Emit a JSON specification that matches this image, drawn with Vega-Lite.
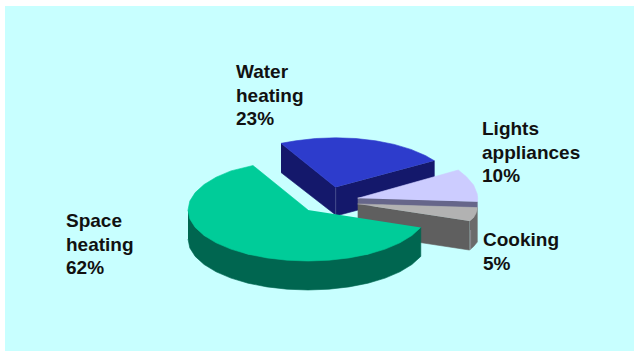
{
  "$schema": "https://vega.github.io/schema/vega-lite/v6.json",
  "width": 634,
  "height": 351,
  "padding": 0,
  "autosize": {"type": "none"},
  "background": "#ffffff",
  "view": {"stroke": null},
  "encoding": {
    "x": {"field": "x", "type": "quantitative", "axis": null, "scale": {"domain": [0, 634], "nice": false, "zero": false}},
    "y": {"field": "y", "type": "quantitative", "axis": null, "scale": {"domain": [351, 0], "nice": false, "zero": false}}
  },
  "layer": [
    {
      "data": {"values": [{"x": 5, "x2": 634, "y": 6, "y2": 351}]},
      "mark": {"type": "rect", "fill": "#c8ffff"},
      "encoding": {"x2": {"field": "x2"}, "y2": {"field": "y2"}}
    },
    {
      "data": {"values": [
        {"face": "water side a", "n": 1, "x": 281, "y": 143.3},
        {"face": "water side a", "n": 2, "x": 335.7, "y": 187.3},
        {"face": "water side a", "n": 3, "x": 335.7, "y": 215},
        {"face": "water side a", "n": 4, "x": 281, "y": 172.5},

        {"face": "water side b", "n": 5, "x": 335.7, "y": 187.3},
        {"face": "water side b", "n": 6, "x": 434.3, "y": 160.7},
        {"face": "water side b", "n": 7, "x": 434.3, "y": 189.7},
        {"face": "water side b", "n": 8, "x": 335.7, "y": 216},

        {"face": "water edge", "n": 8.1, "x": 335.7, "y": 188},
        {"face": "water edge", "n": 8.2, "x": 335.7, "y": 215},

        {"face": "water top", "n": 9, "x": 335.7, "y": 187.3},
        {"face": "water top", "n": 10, "x": 281, "y": 143.3},
        {"face": "water top", "n": 11, "x": 295.7, "y": 140.8},
        {"face": "water top", "n": 12, "x": 315.4, "y": 138.5},
        {"face": "water top", "n": 13, "x": 335.7, "y": 137.8},
        {"face": "water top", "n": 14, "x": 356, "y": 138.5},
        {"face": "water top", "n": 15, "x": 375.7, "y": 140.8},
        {"face": "water top", "n": 16, "x": 394.2, "y": 144.4},
        {"face": "water top", "n": 17, "x": 410.9, "y": 149.4},
        {"face": "water top", "n": 18, "x": 425.3, "y": 155.5},
        {"face": "water top", "n": 19, "x": 434.3, "y": 160.7},

        {"face": "lights side", "n": 20, "x": 357.7, "y": 197.5},
        {"face": "lights side", "n": 21, "x": 477.3, "y": 201.7},
        {"face": "lights side", "n": 22, "x": 477.3, "y": 208},
        {"face": "lights side", "n": 23, "x": 357.7, "y": 204},

        {"face": "lights top", "n": 24, "x": 357.7, "y": 198.3},
        {"face": "lights top", "n": 25, "x": 458.3, "y": 170},
        {"face": "lights top", "n": 26, "x": 466.4, "y": 176.7},
        {"face": "lights top", "n": 27, "x": 473.6, "y": 185.1},
        {"face": "lights top", "n": 28, "x": 477.2, "y": 193.9},
        {"face": "lights top", "n": 29, "x": 477.7, "y": 198.3},
        {"face": "lights top", "n": 30, "x": 477.4, "y": 201.7},

        {"face": "cooking side", "n": 31, "x": 357.7, "y": 204},
        {"face": "cooking side", "n": 32, "x": 469.3, "y": 221},
        {"face": "cooking side", "n": 33, "x": 469.3, "y": 250},
        {"face": "cooking side", "n": 34, "x": 357.7, "y": 233},

        {"face": "cooking rim", "n": 35, "x": 469.6, "y": 221},
        {"face": "cooking rim", "n": 36, "x": 473.6, "y": 217.5},
        {"face": "cooking rim", "n": 37, "x": 477.3, "y": 208},
        {"face": "cooking rim", "n": 38, "x": 477.3, "y": 242},
        {"face": "cooking rim", "n": 39, "x": 473.6, "y": 246.5},
        {"face": "cooking rim", "n": 40, "x": 469.6, "y": 250},

        {"face": "cooking edge", "n": 40.1, "x": 470.6, "y": 230},
        {"face": "cooking edge", "n": 40.2, "x": 470.6, "y": 249},

        {"face": "cooking top", "n": 41, "x": 357.7, "y": 204},
        {"face": "cooking top", "n": 42, "x": 477.4, "y": 207.6},
        {"face": "cooking top", "n": 43, "x": 477, "y": 210},
        {"face": "cooking top", "n": 44, "x": 475.9, "y": 213.5},
        {"face": "cooking top", "n": 45, "x": 473.6, "y": 217.5},
        {"face": "cooking top", "n": 46, "x": 469.6, "y": 221},

        {"face": "space side", "n": 47, "x": 188, "y": 210},
        {"face": "space side", "n": 48, "x": 204.1, "y": 235.5},
        {"face": "space side", "n": 49, "x": 248, "y": 254.2},
        {"face": "space side", "n": 50, "x": 308, "y": 261},
        {"face": "space side", "n": 51, "x": 368, "y": 254.2},
        {"face": "space side", "n": 52, "x": 420.8, "y": 227.4},
        {"face": "space side", "n": 53, "x": 420.8, "y": 256.4},
        {"face": "space side", "n": 54, "x": 411.9, "y": 264.5},
        {"face": "space side", "n": 55, "x": 399.9, "y": 271.8},
        {"face": "space side", "n": 56, "x": 385.2, "y": 278.1},
        {"face": "space side", "n": 57, "x": 368, "y": 283.2},
        {"face": "space side", "n": 58, "x": 349, "y": 286.9},
        {"face": "space side", "n": 59, "x": 328.9, "y": 289.2},
        {"face": "space side", "n": 60, "x": 308, "y": 290},
        {"face": "space side", "n": 61, "x": 287.1, "y": 289.2},
        {"face": "space side", "n": 62, "x": 267, "y": 286.9},
        {"face": "space side", "n": 63, "x": 248, "y": 283.2},
        {"face": "space side", "n": 64, "x": 230.9, "y": 278.1},
        {"face": "space side", "n": 65, "x": 216.1, "y": 271.8},
        {"face": "space side", "n": 66, "x": 204.1, "y": 264.5},
        {"face": "space side", "n": 67, "x": 195.2, "y": 256.4},
        {"face": "space side", "n": 68, "x": 189.8, "y": 247.9},
        {"face": "space side", "n": 69, "x": 188, "y": 239},

        {"face": "space top", "n": 70, "x": 308, "y": 210},
        {"face": "space top", "n": 71, "x": 253, "y": 165.5},
        {"face": "space top", "n": 72, "x": 230.9, "y": 170.9},
        {"face": "space top", "n": 73, "x": 216.1, "y": 177.2},
        {"face": "space top", "n": 74, "x": 204.1, "y": 184.5},
        {"face": "space top", "n": 75, "x": 195.2, "y": 192.6},
        {"face": "space top", "n": 76, "x": 189.8, "y": 201.1},
        {"face": "space top", "n": 77, "x": 188, "y": 210},
        {"face": "space top", "n": 78, "x": 189.8, "y": 218.9},
        {"face": "space top", "n": 79, "x": 195.2, "y": 227.4},
        {"face": "space top", "n": 80, "x": 204.1, "y": 235.5},
        {"face": "space top", "n": 81, "x": 216.1, "y": 242.8},
        {"face": "space top", "n": 82, "x": 230.9, "y": 249.1},
        {"face": "space top", "n": 83, "x": 248, "y": 254.2},
        {"face": "space top", "n": 84, "x": 267, "y": 257.9},
        {"face": "space top", "n": 85, "x": 287.1, "y": 260.2},
        {"face": "space top", "n": 86, "x": 308, "y": 261},
        {"face": "space top", "n": 87, "x": 328.9, "y": 260.2},
        {"face": "space top", "n": 88, "x": 349, "y": 257.9},
        {"face": "space top", "n": 89, "x": 368, "y": 254.2},
        {"face": "space top", "n": 90, "x": 385.2, "y": 249.1},
        {"face": "space top", "n": 91, "x": 399.9, "y": 242.8},
        {"face": "space top", "n": 92, "x": 411.9, "y": 235.5},
        {"face": "space top", "n": 93, "x": 420.8, "y": 227.4}
      ]},
      "mark": {"type": "line", "filled": true, "strokeWidth": 0.6, "interpolate": "linear"},
      "encoding": {
        "order": {"field": "n", "type": "quantitative"},
        "fill": {
          "field": "face", "type": "nominal", "legend": null,
          "scale": {
            "domain": ["water side a", "water side b", "water edge", "water top", "lights side", "lights top", "cooking side", "cooking rim", "cooking edge", "cooking top", "space side", "space top"],
            "range": ["#14186b", "#14186b", "#5a5e98", "#2d3ccc", "#66668a", "#ccccff", "#5f5f5f", "#6b6b6b", "#a0a0aa", "#b2b2b2", "#006650", "#00cc99"]
          }
        },
        "stroke": {
          "field": "face", "type": "nominal", "legend": null,
          "scale": {
            "domain": ["water side a", "water side b", "water edge", "water top", "lights side", "lights top", "cooking side", "cooking rim", "cooking edge", "cooking top", "space side", "space top"],
            "range": ["#14186b", "#14186b", "#5a5e98", "#2d3ccc", "#66668a", "#ccccff", "#5f5f5f", "#6b6b6b", "#a0a0aa", "#b2b2b2", "#006650", "#00cc99"]
          }
        }
      }
    },
    {
      "data": {"values": [
        {"label": "Water\nheating\n23%", "x": 236, "y": 63},
        {"label": "Lights\nappliances\n10%", "x": 482, "y": 120},
        {"label": "Cooking\n5%", "x": 483, "y": 231},
        {"label": "Space\nheating\n62%", "x": 66, "y": 212}
      ]},
      "mark": {
        "type": "text", "align": "left", "baseline": "top", "lineBreak": "\n", "lineHeight": 23.7,
        "font": "Liberation Sans", "fontWeight": "bold", "fontSize": 19, "fill": "#111111"
      },
      "encoding": {"text": {"field": "label", "type": "nominal"}}
    }
  ]
}
